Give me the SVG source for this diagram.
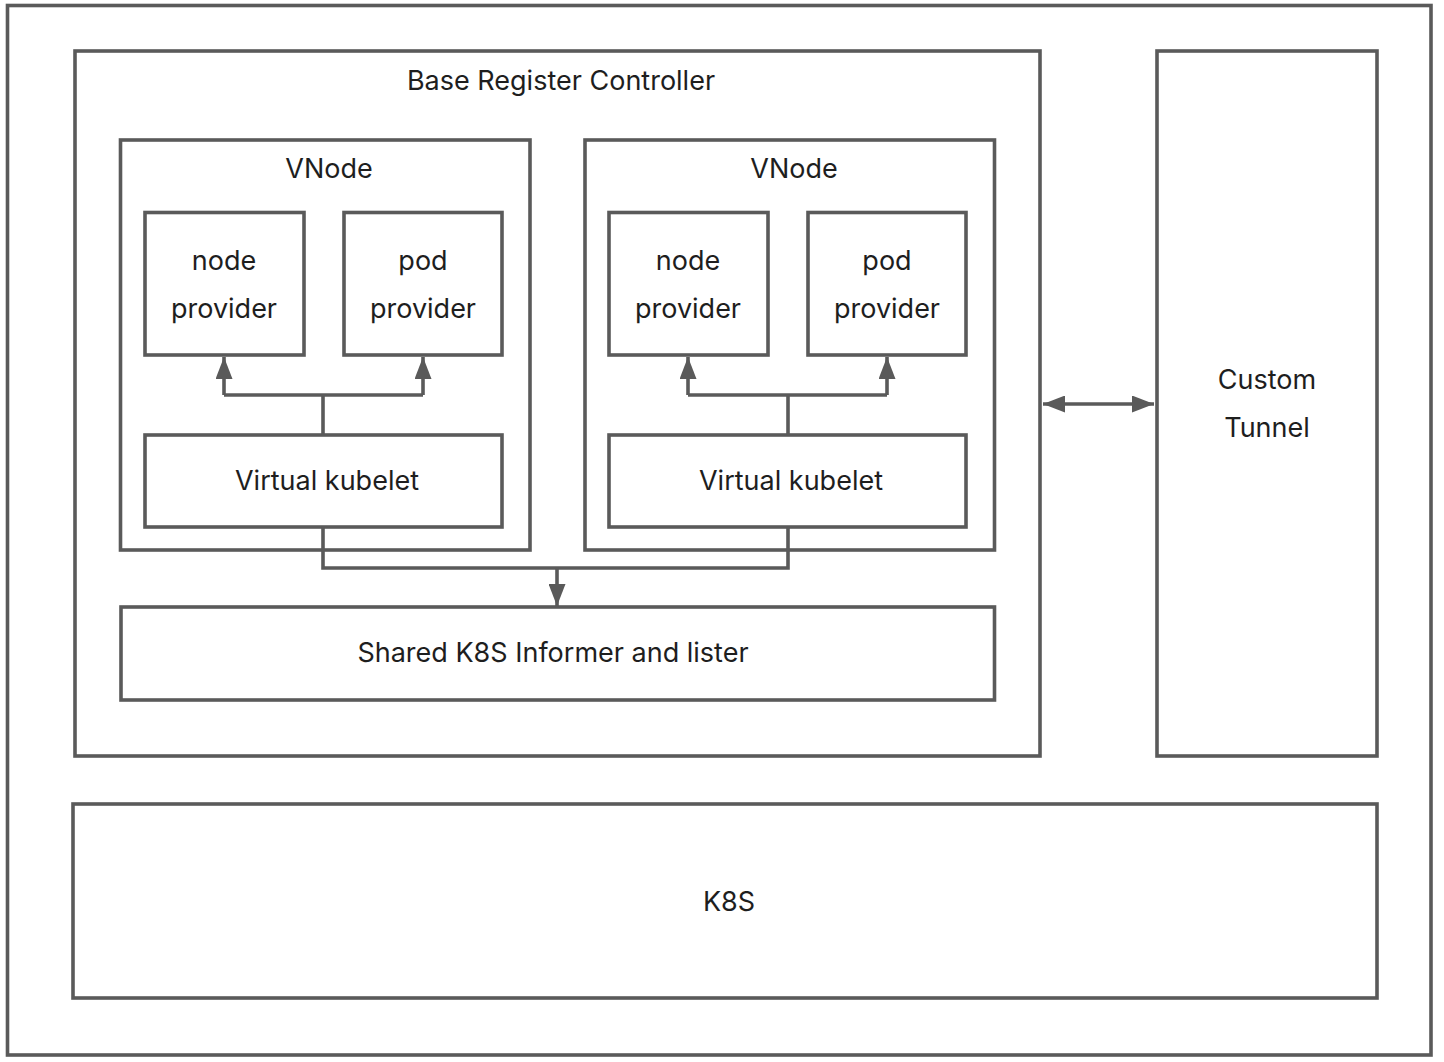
<svg xmlns="http://www.w3.org/2000/svg" width="1444" height="1062" viewBox="0 0 1444 1062">
<style>
.b{fill:none;stroke:#5a5a5a;stroke-width:3.6}
.c{fill:none;stroke:#5a5a5a;stroke-width:3.6}
text{font-family:Inter,"Noto Sans","Liberation Sans",sans-serif;font-size:27px;fill:#1e1e1e;text-anchor:middle}
</style>
<defs>
<marker id="ah" viewBox="0 0 22 17" refX="22" refY="8.5" markerWidth="22" markerHeight="17" markerUnits="userSpaceOnUse" orient="auto-start-reverse">
<path d="M0,0 L22,8.5 L0,17 z" fill="#5a5a5a"/>
</marker>
</defs>
<rect width="1444" height="1062" fill="#ffffff"/>
<g id="outer"><rect class="b" x="7.5" y="5.5" width="1423.5" height="1049.5"/></g>
<g id="brc"><rect class="b" x="75" y="51" width="965" height="705"/><text x="561" y="90">Base Register Controller</text></g>
<g id="vnode1"><rect class="b" x="120.5" y="140" width="409.5" height="410"/><text x="329" y="178">VNode</text></g>
<g id="np1"><rect class="b" x="145" y="212.5" width="159" height="142.5"/><text x="224" y="270">node</text><text x="224" y="318">provider</text></g>
<g id="pp1"><rect class="b" x="344" y="212.5" width="158" height="142.5"/><text x="423" y="270">pod</text><text x="423" y="318">provider</text></g>
<g id="vk1"><rect class="b" x="145" y="435" width="357" height="92"/><text x="327" y="490">Virtual kubelet</text></g>
<g id="vnode2"><rect class="b" x="585" y="140" width="409.5" height="410"/><text x="794" y="178">VNode</text></g>
<g id="np2"><rect class="b" x="609" y="212.5" width="159" height="142.5"/><text x="688" y="270">node</text><text x="688" y="318">provider</text></g>
<g id="pp2"><rect class="b" x="808" y="212.5" width="158" height="142.5"/><text x="887" y="270">pod</text><text x="887" y="318">provider</text></g>
<g id="vk2"><rect class="b" x="609" y="435" width="357" height="92"/><text x="791" y="490">Virtual kubelet</text></g>
<g id="shared"><rect class="b" x="121" y="607" width="873.5" height="93"/><text x="553" y="662">Shared K8S Informer and lister</text></g>
<g id="tunnel"><rect class="b" x="1157" y="51" width="220" height="705"/><text x="1267" y="389">Custom</text><text x="1267" y="437">Tunnel</text></g>
<g id="k8s"><rect class="b" x="73" y="804" width="1304" height="194"/><text x="729" y="911">K8S</text></g>
<g id="connectors">
<path class="c" d="M323,435 V395"/>
<path class="c" d="M224,395 H423"/>
<path class="c" d="M224,395 V357" marker-end="url(#ah)"/>
<path class="c" d="M423,395 V357" marker-end="url(#ah)"/>
<path class="c" d="M788,435 V395"/>
<path class="c" d="M688,395 H887"/>
<path class="c" d="M688,395 V357" marker-end="url(#ah)"/>
<path class="c" d="M887,395 V357" marker-end="url(#ah)"/>
<path class="c" d="M323,527 V568 H788 V527"/>
<path class="c" d="M557,568 V606" marker-end="url(#ah)"/>
<path class="c" d="M1043,404 H1154" marker-start="url(#ah)" marker-end="url(#ah)"/>
</g>
</svg>
